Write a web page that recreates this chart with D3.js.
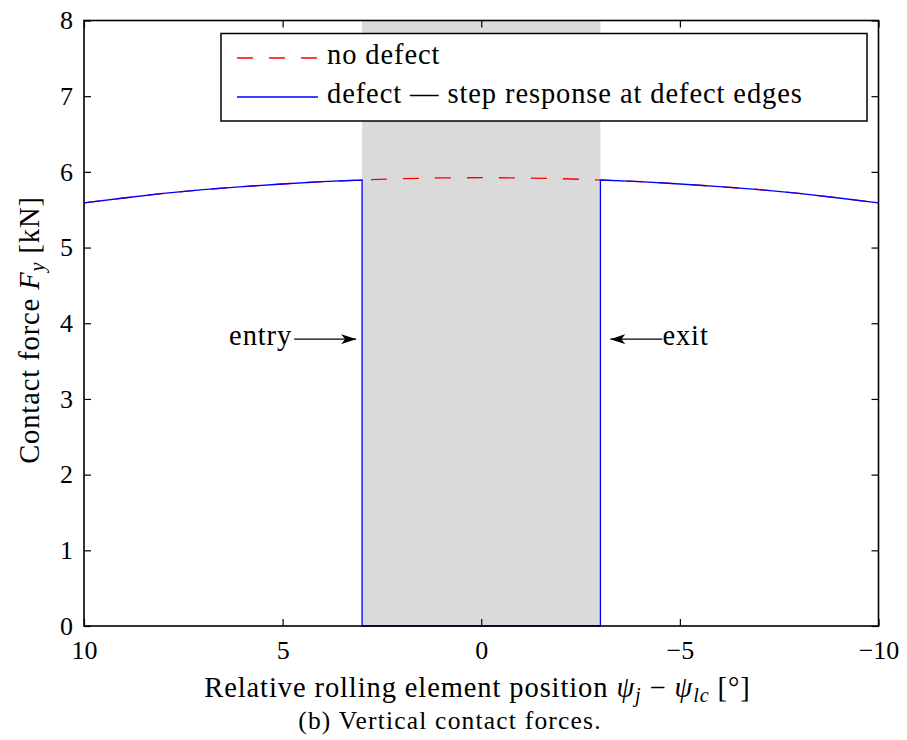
<!DOCTYPE html>
<html>
<head>
<meta charset="utf-8">
<script src="https://cdn.jsdelivr.net/npm/d3@7"></script>
<style>
  html, body { margin: 0; padding: 0; background: #fff; }
  svg { display: block; }
</style>
</head>
<body>
<svg id="chart" width="907" height="740" font-family="Times New Roman"></svg>
<script>
// Relative rolling element position (degrees) and vertical contact force (kN)
const psi = [10, 9, 8, 7, 6, 5, 4, 3, 2, 1, 0, -1, -2, -3, -4, -5, -6, -7, -8, -9, -10];
const forceNoDefect = [5.59, 5.655, 5.715, 5.765, 5.805, 5.84, 5.87, 5.892, 5.91, 5.92, 5.923,
                       5.92, 5.91, 5.892, 5.87, 5.84, 5.805, 5.765, 5.715, 5.655, 5.59];

// Defective race: step to zero over the defect, step back up at its exit edge
const psiDefect = [10, 9, 8, 7, 6, 5, 4, 3, 3, 0, -3, -3, -4, -5, -6, -7, -8, -9, -10];
const forceDefect = [5.59, 5.655, 5.715, 5.765, 5.805, 5.84, 5.87, 5.892, 0, 0, 0, 5.892,
                     5.87, 5.84, 5.805, 5.765, 5.715, 5.655, 5.59];

const defectZone = [3, -3];
const xTicks = [10, 5, 0, -5, -10];
const yTicks = [0, 1, 2, 3, 4, 5, 6, 7, 8];
const legendLabels = ["no defect", "defect \u2014 step response at defect edges"];

const FONT = "Times New Roman";
const BASE = 19; // glyphs are set at a base size and scaled up

const svg = d3.select("#chart");
const plotLeft = 84, plotRight = 878.5, plotTop = 20.5, plotBottom = 626;

const x = d3.scaleLinear().domain([10, -10]).range([plotLeft, plotRight]);
const y = d3.scaleLinear().domain([0, 8]).range([plotBottom, plotTop]);

// text placed at (px, py), scaled to the requested pixel size
function label(px, py, size, spacing, anchor, rotate) {
  const k = size / BASE;
  return svg.append("text")
    .attr("transform", `translate(${px},${py}) rotate(${rotate || 0}) scale(${k})`)
    .attr("font-family", FONT).attr("font-size", BASE)
    .attr("letter-spacing", (spacing || 0) / k)
    .attr("text-anchor", anchor || "start")
    .attr("fill", "#000");
}

// shaded defect region
svg.append("rect")
  .attr("x", x(defectZone[0]))
  .attr("y", y(8))
  .attr("width", x(defectZone[1]) - x(defectZone[0]))
  .attr("height", y(0) - y(8))
  .attr("fill", "#dadada");

// healthy bearing (dashed red)
svg.append("path")
  .datum(psi.map((p, i) => [x(p), y(forceNoDefect[i])]))
  .attr("d", d3.line().curve(d3.curveNatural))
  .attr("fill", "none")
  .attr("stroke", "#ff0000")
  .attr("stroke-width", 1.3)
  .attr("stroke-dasharray", "16,16");

// defective bearing (solid blue)
svg.append("path")
  .datum(psiDefect.map((p, i) => [x(p), y(forceDefect[i])]))
  .attr("d", d3.line())
  .attr("fill", "none")
  .attr("stroke", "#0000ff")
  .attr("stroke-width", 1.3);

// axes with inward ticks on all four sides
const tickSize = 26, tk = tickSize / BASE;
const axisStyle = g => {
  g.attr("font-family", FONT).attr("font-size", BASE);
  g.select(".domain").remove();
  g.selectAll(".tick line").attr("stroke", "#000").attr("stroke-width", 1.2);
  g.selectAll(".tick text").each(function () {
    const t = d3.select(this);
    t.attr("x", (+t.attr("x") || 0) / tk)
     .attr("y", (+t.attr("y") || 0) / tk)
     .attr("transform", `scale(${tk})`)
     .attr("font-family", FONT).attr("font-size", BASE)
     .attr("fill", "#000");
  });
};

svg.append("g").attr("transform", `translate(0,${plotBottom})`)
  .call(d3.axisBottom(x).tickValues(xTicks).tickSize(-7).tickPadding(15).tickFormat(d3.format("d")))
  .call(axisStyle);
svg.append("g").attr("transform", `translate(0,${plotTop})`)
  .call(d3.axisTop(x).tickValues(xTicks).tickSize(-7).tickFormat(""))
  .call(axisStyle);
svg.append("g").attr("transform", `translate(${plotLeft},0)`)
  .call(d3.axisLeft(y).tickValues(yTicks).tickSize(-7).tickPadding(11).tickFormat(d3.format("d")))
  .call(axisStyle);
svg.append("g").attr("transform", `translate(${plotRight},0)`)
  .call(d3.axisRight(y).tickValues(yTicks).tickSize(-7).tickFormat(""))
  .call(axisStyle);

// frame
svg.append("rect")
  .attr("x", plotLeft).attr("y", plotTop)
  .attr("width", plotRight - plotLeft).attr("height", plotBottom - plotTop)
  .attr("fill", "none").attr("stroke", "#000").attr("stroke-width", 1.6);

// legend
svg.append("rect")
  .attr("x", 221).attr("y", 33.5).attr("width", 646).attr("height", 87.5)
  .attr("fill", "#fff").attr("stroke", "#000").attr("stroke-width", 1.5);
svg.append("line").attr("x1", 237).attr("x2", 318).attr("y1", 58).attr("y2", 58)
  .attr("stroke", "#ff0000").attr("stroke-width", 1.3).attr("stroke-dasharray", "16,16");
svg.append("line").attr("x1", 237).attr("x2", 318).attr("y1", 97).attr("y2", 97)
  .attr("stroke", "#0000ff").attr("stroke-width", 1.3);
label(327, 63.5, 28.5, 0.9).text(legendLabels[0]);
label(327, 103, 28.5, 0.9).text(legendLabels[1]);

// entry / exit annotations
svg.append("defs").append("marker")
  .attr("id", "arrow").attr("viewBox", "0 0 15 10").attr("refX", 15).attr("refY", 5)
  .attr("markerWidth", 15).attr("markerHeight", 10).attr("markerUnits", "userSpaceOnUse")
  .attr("orient", "auto")
  .append("path").attr("d", "M0,0 L15,5 L0,10 L4,5 Z").attr("fill", "#000");

const arrowY = 3.79;
const entryFrom = 4.71, entryTo = 3.15, exitFrom = -4.56, exitTo = -3.25;
svg.append("line")
  .attr("x1", x(entryFrom)).attr("x2", x(entryTo)).attr("y1", y(arrowY)).attr("y2", y(arrowY))
  .attr("stroke", "#000").attr("stroke-width", 1.3).attr("marker-end", "url(#arrow)");
svg.append("line")
  .attr("x1", x(exitFrom)).attr("x2", x(exitTo)).attr("y1", y(arrowY)).attr("y2", y(arrowY))
  .attr("stroke", "#000").attr("stroke-width", 1.3).attr("marker-end", "url(#arrow)");
label(x(entryFrom) - 2, y(arrowY) + 6, 28.5, 0.9, "end").text("entry");
label(x(exitFrom), y(arrowY) + 6, 28.5, 0.9, "start").text("exit");

// axis titles
const k = 28.5 / BASE;
const xt = label(477.5, 697, 28.5, 0.9, "middle");
xt.append("tspan").text("Relative rolling element position ");
xt.append("tspan").attr("font-style", "italic").text("\u03C8");
xt.append("tspan").attr("font-style", "italic").attr("font-size", 13.5).attr("dy", 5 / k).text("j");
xt.append("tspan").attr("dy", -5 / k).text(" \u2212 ");
xt.append("tspan").attr("font-style", "italic").text("\u03C8");
xt.append("tspan").attr("font-style", "italic").attr("font-size", 13.5).attr("dy", 5 / k).text("lc");
xt.append("tspan").attr("dy", -5 / k).text(" [\u00B0]");

const yt = label(38.5, 330, 28.5, 0.9, "middle", -90);
yt.append("tspan").text("Contact force ");
yt.append("tspan").attr("font-style", "italic").text("F");
yt.append("tspan").attr("font-style", "italic").attr("font-size", 13.5).attr("dy", 5 / k).text("y");
yt.append("tspan").attr("dy", -5 / k).text(" [kN]");

// caption
label(450, 729, 25.5, 1.2, "middle").text("(b) Vertical contact forces.");
</script>
</body>
</html>
